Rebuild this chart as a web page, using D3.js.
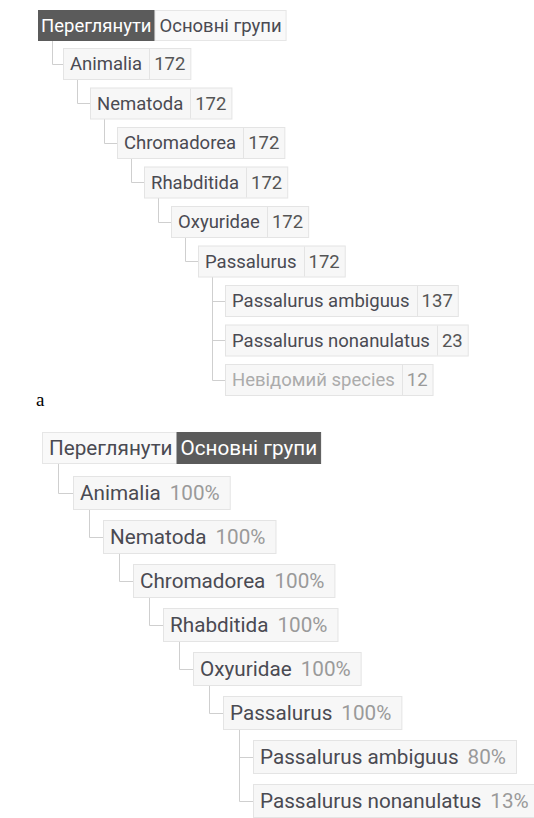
<!DOCTYPE html>
<html>
<head>
<meta charset="utf-8">
<script src="https://cdn.jsdelivr.net/npm/d3@7"></script>
<style>
  html, body { margin: 0; padding: 0; background: #fff; }
  svg { display: block; font-family: Roboto, "Noto Sans", sans-serif; }
</style>
</head>
<body>
<div id="chart"></div>
<script>
// tabs and taxonomy path
const tabs = ['Переглянути', 'Основні групи']
const ranks = ['Animalia', 'Nematoda', 'Chromadorea', 'Rhabditida', 'Oxyuridae', 'Passalurus']
const rankCounts = [172, 172, 172, 172, 172, 172]
const rankPercents = [100, 100, 100, 100, 100, 100]
const species = ['Passalurus ambiguus', 'Passalurus nonanulatus', 'Невідомий species']
const speciesCounts = [137, 23, 12]
const speciesPercents = [80, 13]

const W = 534, H = 818

const svg = d3.select('#chart')
    .append('svg')
    .attr('width', W)
    .attr('height', H)

svg.append('rect').attr('width', W).attr('height', H).attr('fill', '#fff')

// panel settings (panel b is drawn a bit bigger)
const panels = [
    {
        active: 0, tabX: 38, tabY: 10, tabH: 30, tabPads: [[3, 3], [5, 4]],
        x0: 63, dx: 27, y0: 48, dy: 39.5, h: 31, font: 18.5, off: 14,
        values: rankCounts, leafValues: speciesCounts, leaves: species,
        fmt: d => d, divider: true, padL: 7, padM: 7, padN: 5, valColor: '#555'
    },
    {
        active: 1, tabX: 42, tabY: 432, tabH: 31, tabPads: [[7, 4], [4, 3]],
        x0: 73, dx: 30, y0: 476, dy: 44, h: 33, font: 20.7, off: 15.5,
        values: rankPercents, leafValues: speciesPercents, leaves: species.slice(0, 2),
        fmt: d => d + '%', divider: false, padL: 7, padM: 9, padN: 10, valColor: '#9a9a9a'
    }
]

const lineColor = '#cfcfcf'

function buildTree(p) {
    const leafNodes = p.leaves.map((n, i) => ({ name: n, value: p.leafValues[i], muted: n.startsWith('Невідомий') }))
    const nested = ranks.reduceRight((child, name, i) => ({
        name: name,
        value: p.values[i],
        children: child ? [child] : leafNodes
    }), null)
    return d3.hierarchy({ name: 'tabs', children: [nested] })
}

function drawPanel(p) {
    const g = svg.append('g')
    const root = buildTree(p)
    const nodes = root.descendants().slice(1)
    nodes.forEach((d, i) => d.row = i)

    const xScale = d3.scaleLinear().domain([1, 7]).range([p.x0, p.x0 + 6 * p.dx])
    const yScale = d3.scaleLinear().domain([0, 8]).range([p.y0, p.y0 + 8 * p.dy])

    const lines = g.append('g')
    const boxes = g.append('g')

    // tabs
    let tx = p.tabX
    tabs.forEach((t, i) => {
        const [pl, pr] = p.tabPads[i]
        const tg = boxes.append('g')
        const rect = tg.append('rect')
        const text = tg.append('text')
            .text(t)
            .attr('font-size', p.font)
            .attr('x', tx + pl)
            .attr('y', p.tabY + p.tabH / 2 + p.font * 0.36)
            .attr('fill', i == p.active ? '#fff' : '#4a4a52')
        const w = text.node().getComputedTextLength() + pl + pr
        rect.attr('x', tx + 0.5).attr('y', p.tabY + 0.5)
            .attr('width', w).attr('height', p.tabH)
            .attr('fill', i == p.active ? '#5b5b5b' : '#f9f9f9')
            .attr('stroke', i == p.active ? '#5b5b5b' : '#e6e6e6')
        tx += w
    })

    // node boxes
    nodes.forEach(d => {
        const x = xScale(d.depth)
        const y = yScale(d.row)
        const ng = boxes.append('g')
        const rect = ng.append('rect')
        const name = ng.append('text')
            .text(d.data.name)
            .attr('font-size', p.font)
            .attr('x', x + p.padL)
            .attr('y', y + p.h / 2 + p.font * 0.36)
            .attr('fill', d.data.muted ? '#ababab' : '#4a4a52')
        const nw = name.node().getComputedTextLength()
        const divX = x + p.padL + nw + p.padM
        const val = ng.append('text')
            .text(p.fmt(d.data.value))
            .attr('font-size', p.font)
            .attr('x', divX + (p.divider ? 5 : 0))
            .attr('y', y + p.h / 2 + p.font * 0.36)
            .attr('fill', d.data.muted ? '#9a9a9a' : p.valColor)
        const vw = val.node().getComputedTextLength()
        const w = divX - x + (p.divider ? 5 : 0) + vw + p.padN
        rect.attr('x', x + 0.5).attr('y', y + 0.5)
            .attr('width', w).attr('height', p.h)
            .attr('fill', '#f7f7f7')
            .attr('stroke', '#e4e4e4')
        if (p.divider) {
            ng.append('line')
                .attr('x1', Math.round(divX) + 0.5).attr('x2', Math.round(divX) + 0.5)
                .attr('y1', y + 1).attr('y2', y + p.h)
                .attr('stroke', '#e4e4e4')
        }
        d.box = { x: x, y: y }
    })

    // connector lines
    const link = (px, py0, kids) => {
        const last = kids[kids.length - 1]
        const vx = Math.round(px + p.off) + 0.5
        lines.append('line')
            .attr('x1', vx).attr('x2', vx)
            .attr('y1', py0).attr('y2', Math.round(last.box.y + p.h / 2) + 0.5)
            .attr('stroke', lineColor)
        kids.forEach(k => {
            const ky = Math.round(k.box.y + p.h / 2) + 0.5
            lines.append('line')
                .attr('x1', vx).attr('x2', k.box.x)
                .attr('y1', ky).attr('y2', ky)
                .attr('stroke', lineColor)
        })
    }
    link(p.tabX, p.tabY + p.tabH, root.children)
    nodes.forEach(d => {
        if (d.children) link(d.box.x, d.box.y + p.h, d.children)
    })
}

panels.forEach(drawPanel)

// panel label
svg.append('text')
    .text('a')
    .attr('x', 36)
    .attr('y', 406)
    .attr('font-family', '"Liberation Serif", serif')
    .attr('font-size', 19)
    .attr('fill', '#000')
</script>
</body>
</html>
